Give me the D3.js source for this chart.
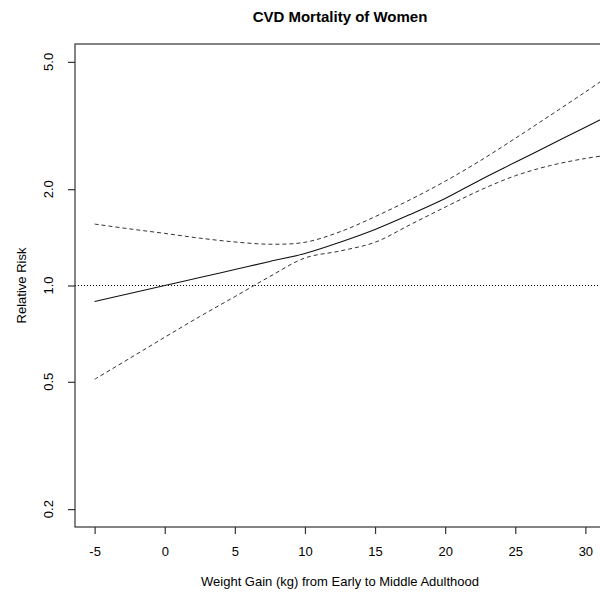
<!DOCTYPE html>
<html>
<head>
<meta charset="utf-8">
<script src="https://cdn.jsdelivr.net/npm/d3@7"></script>
<style>
  body { margin: 0; background: white; overflow: hidden; }
  text { font-family: "Liberation Sans", Arial, sans-serif; fill: #000; }
</style>
</head>
<body>
<svg id="chart"></svg>
<script>
// weight gain (kg) and relative risk
var weightGain = [-5, -2.5, 0, 2.5, 5, 7.5, 10, 12.5, 15, 17.5, 20, 22.5, 25, 27.5, 30, 32];
var riskEstimate = [0.891, 0.944, 1.0, 1.059, 1.122, 1.189, 1.259, 1.365, 1.496, 1.667, 1.871, 2.138, 2.427, 2.754, 3.126, 3.45];
var riskUpper = [1.556, 1.503, 1.455, 1.406, 1.368, 1.346, 1.365, 1.472, 1.641, 1.854, 2.118, 2.455, 2.884, 3.404, 4.027, 4.624];
var riskLower = [0.509, 0.592, 0.689, 0.8, 0.923, 1.067, 1.219, 1.282, 1.365, 1.549, 1.758, 1.986, 2.203, 2.371, 2.495, 2.57];
var xTicks = [-5, 0, 5, 10, 15, 20, 25, 30];
var yTicks = [0.2, 0.5, 1.0, 2.0, 5.0];

var width = 600, height = 594;
var plotLeft = 75, plotRight = 605, plotTop = 44, plotBottom = 527;

var svg = d3.select("#chart")
    .attr("width", width)
    .attr("height", height)

// R style 4% padding on each side
var xPad = (30 - (-5)) * 0.04;
var xScale = d3.scaleLinear()
    .domain([-5 - xPad, 30 + xPad])
    .range([plotLeft, plotRight]);

var lPad = (Math.log10(5) - Math.log10(0.2)) * 0.04;
var yScale = d3.scaleLog()
    .domain([0.2 / Math.pow(10, lPad), 5 * Math.pow(10, lPad)])
    .range([plotBottom, plotTop]);

svg.append("clipPath")
    .attr("id", "plotClip")
    .append("rect")
    .attr("x", plotLeft)
    .attr("y", plotTop)
    .attr("width", plotRight - plotLeft)
    .attr("height", plotBottom - plotTop);

var plot = svg.append("g").attr("clip-path", "url(#plotClip)");

var makeLine = function (values) {
    return d3.line()
        .x((d, i) => xScale(weightGain[i]))
        .y(d => yScale(d))
        .curve(d3.curveCatmullRom.alpha(0.5))(values);
}

// reference line at RR = 1
plot.append("line")
    .attr("x1", plotLeft)
    .attr("x2", plotRight)
    .attr("y1", yScale(1))
    .attr("y2", yScale(1))
    .attr("stroke", "#000")
    .attr("stroke-width", 1)
    .attr("stroke-dasharray", "1,2");

plot.append("path")
    .attr("d", makeLine(riskEstimate))
    .attr("fill", "none")
    .attr("stroke", "#111")
    .attr("stroke-width", 1.1);

[riskUpper, riskLower].forEach(function (band) {
    plot.append("path")
        .attr("d", makeLine(band))
        .attr("fill", "none")
        .attr("stroke", "#333")
        .attr("stroke-width", 1)
        .attr("stroke-dasharray", "4,3");
});

// box
svg.append("rect")
    .attr("x", plotLeft)
    .attr("y", plotTop)
    .attr("width", plotRight - plotLeft)
    .attr("height", plotBottom - plotTop)
    .attr("fill", "none")
    .attr("stroke", "#333")
    .attr("stroke-width", 1.2);

// x axis
var xAxis = svg.append("g")
    .attr("transform", "translate(0," + plotBottom + ")")
    .call(d3.axisBottom(xScale).tickValues(xTicks).tickSize(7).tickPadding(13).tickFormat(d => String(d)));
xAxis.select(".domain").remove();
xAxis.selectAll("line").attr("stroke", "#333").attr("stroke-width", 1.2);
xAxis.selectAll("text")
    .style("font-family", "Liberation Sans, Arial, sans-serif")
    .style("font-size", "13px")
    .attr("fill", "#000");

// y axis, labels rotated like base R
var yAxis = svg.append("g")
    .attr("transform", "translate(" + plotLeft + ",0)")
    .call(d3.axisLeft(yScale).tickValues(yTicks).tickSize(7).tickFormat(""));
yAxis.select(".domain").remove();
yAxis.selectAll("line").attr("stroke", "#333").attr("stroke-width", 1.2);

svg.selectAll("text.ylab")
    .data(yTicks)
    .join("text")
    .attr("class", "ylab")
    .attr("transform", d => "translate(53," + yScale(d) + ") rotate(-90)")
    .attr("text-anchor", "middle")
    .style("font-size", "13px")
    .text(d => d3.format(".1f")(d));

svg.append("text")
    .attr("x", (plotLeft + plotRight) / 2)
    .attr("y", 22)
    .attr("text-anchor", "middle")
    .style("font-size", "15px")
    .style("font-weight", "bold")
    .text("CVD Mortality of Women");

svg.append("text")
    .attr("x", (plotLeft + plotRight) / 2)
    .attr("y", 586)
    .attr("text-anchor", "middle")
    .style("font-size", "13px")
    .text("Weight Gain (kg) from Early to Middle Adulthood");

svg.append("text")
    .attr("transform", "translate(26," + (plotTop + plotBottom) / 2 + ") rotate(-90)")
    .attr("text-anchor", "middle")
    .style("font-size", "13px")
    .text("Relative Risk");
</script>
</body>
</html>
